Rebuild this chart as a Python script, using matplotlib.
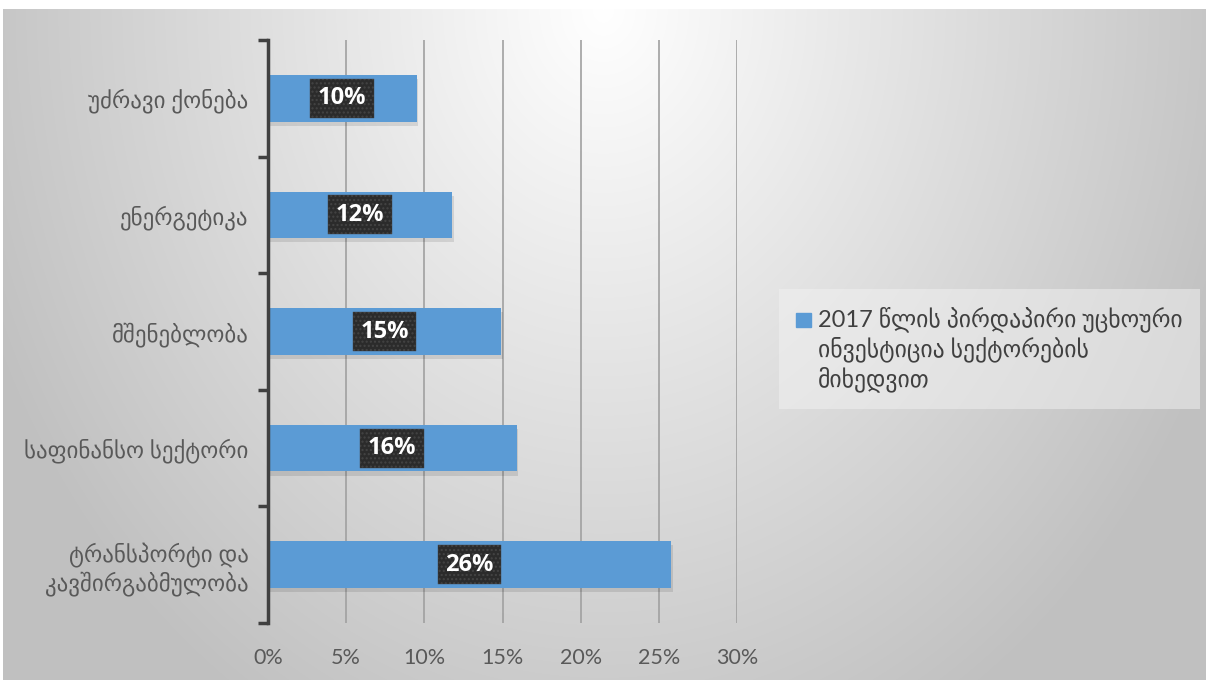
"""Foreign direct investment by sector, Georgia 2017 - horizontal bar chart."""
import numpy as np
import matplotlib
matplotlib.use('Agg')
import matplotlib.pyplot as plt
from matplotlib.patches import Rectangle
from matplotlib.legend_handler import HandlerPatch

plt.rcParams['font.family'] = ['Lato', 'DejaVu Sans']

# Data (top to bottom as shown in the chart)
SECTORS = ['უძრავი ქონება', 'ენერგეტიკა', 'მშენებლობა',
           'საფინანსო სექტორი', 'ტრანსპორტი და\nკავშირგაბმულობა']
SHARES = [9.5, 11.8, 14.9, 15.9, 25.8]
LABELS = ['10%', '12%', '15%', '16%', '26%']
X_TICKS = [0, 5, 10, 15, 20, 25, 30]
SERIES_NAME = ('2017 წლის პირდაპირი უცხოური\n'
               'ინვესტიცია სექტორების\nმიხედვით')

BAR_COLOR = '#5B9BD5'
TEXT_COLOR = '#595959'

fig = plt.figure(figsize=(12.09, 6.8), dpi=100)
fig.patch.set_facecolor('white')

# Background gradient panel
bg = fig.add_axes([3 / 1209, 0, 1203 / 1209, 671 / 680])
yy, xx = np.mgrid[0:671, 0:1203]
d = np.sqrt(((xx - 600) / 620.0) ** 2 + ((yy - 0) / 760.0) ** 2)
shade = np.clip(255 - 58 * d, 192, 255) / 255.0
bg.imshow(np.dstack([shade, shade, shade]), aspect='auto',
          extent=[0, 1, 0, 1], origin='upper')
bg.set_axis_off()

# Main axes
ax = fig.add_axes([268 / 1209, 1 - 623 / 680, (737 - 268) / 1209,
                   (623 - 40) / 680])
ax.patch.set_alpha(0)

y_pos = np.arange(len(SECTORS))
# soft shadow under the bars
ax.barh(y_pos + 0.035, SHARES, height=0.4, left=0.12, color='black',
        alpha=0.10, zorder=2)
ax.barh(y_pos, SHARES, height=0.4, color=BAR_COLOR, zorder=3)

for y, v, lab in zip(y_pos, SHARES, LABELS):
    ax.text(v / 2, y, lab, ha='center', va='center', fontsize=17,
            fontweight='bold', color='white',
            family=['Open Sans', 'DejaVu Sans'], zorder=5,
            bbox=dict(boxstyle='square,pad=0.32', facecolor='#2B2B2B',
                      edgecolor='#444444', linewidth=0.3, hatch='....'))

ax.set_xlim(0, 30)
ax.set_ylim(len(SECTORS) - 0.5, -0.5)
ax.set_xticks(X_TICKS)
ax.set_xticklabels([f'{t}%' for t in X_TICKS])
ax.set_yticks(y_pos)
ax.set_yticklabels(SECTORS, fontsize=16.5, color=TEXT_COLOR)
ax.set_yticks(np.arange(-0.5, len(SECTORS)), minor=True)

ax.tick_params(axis='x', length=0, labelsize=15.5, labelcolor=TEXT_COLOR,
               pad=18)
ax.tick_params(axis='y', which='major', length=0, pad=14)
ax.tick_params(axis='y', which='minor', length=7, width=2.5,
               color='#404040', direction='out')

ax.grid(axis='x', color='#A0A0A0', linewidth=1.2, zorder=0)
ax.set_axisbelow(True)
for side in ['top', 'right', 'bottom']:
    ax.spines[side].set_visible(False)
ax.spines['left'].set_color('#404040')
ax.spines['left'].set_linewidth(2.5)
ax.spines['left'].set_zorder(4)


def top_square(legend, orig_handle, xdescent, ydescent, width, height,
               fontsize):
    # put the legend marker next to the first line of the label
    size = 0.6 * fontsize
    return Rectangle((-xdescent, -ydescent + 1.25 * fontsize), size, size)


# Legend
proxy = Rectangle((0, 0), 1, 1, color=BAR_COLOR)
leg = fig.legend([proxy], [SERIES_NAME], loc='center left',
                 bbox_to_anchor=(774 / 1209, 1 - 349 / 680),
                 frameon=True, fontsize=17, handlelength=0.6,
                 handleheight=0.6, handletextpad=0.3, borderpad=0.45,
                 labelcolor='#404040',
                 handler_map={Rectangle: HandlerPatch(patch_func=top_square)})
leg.get_frame().set_facecolor('#F2F2F2')
leg.get_frame().set_alpha(0.5)
leg.get_frame().set_edgecolor('none')
leg.get_frame().set_boxstyle('square')

fig.savefig('out.png', dpi=100)
